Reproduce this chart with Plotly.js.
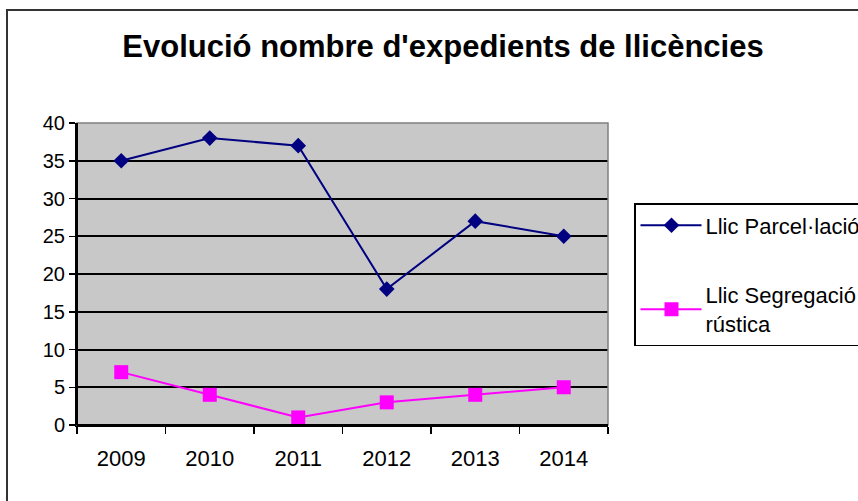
<!DOCTYPE html>
<html>
<head>
<meta charset="utf-8">
<script src="https://cdn.plot.ly/plotly-3.0.1.min.js"></script>
<style>html,body{margin:0;padding:0;background:#fff;overflow:hidden}#chart{width:858px;height:501px}</style>
</head>
<body>
<div id="chart"></div>
<script>
const years = ['2009', '2010', '2011', '2012', '2013', '2014'];
const parcelacio = [35, 38, 37, 18, 27, 25];
const segregacio = [7, 4, 1, 3, 4, 5];
const seriesNames = ['Llic Parcel·lació', 'Llic Segregació<br>rústica'];
const yTicks = [0, 5, 10, 15, 20, 25, 30, 35, 40];
const titleText = "Evolució nombre d'expedients de llicències";

const FONT = 'Liberation Sans, Arial, sans-serif';

const traces = [
  {
    x: years, y: parcelacio, name: seriesNames[0], type: 'scatter', mode: 'lines+markers',
    legendgroup: 'a',
    line: {color: '#000080', width: 2},
    marker: {symbol: 'diamond', size: 12, color: '#000080'}
  },
  {
    x: years, y: segregacio, name: seriesNames[1], type: 'scatter', mode: 'lines+markers',
    legendgroup: 'b',
    line: {color: '#ff00ff', width: 2},
    marker: {symbol: 'square', size: 14, color: '#ff00ff'}
  }
];

const layout = {
  width: 858, height: 501,
  margin: {l: 77, r: 250, t: 123, b: 76, autoexpand: false},
  paper_bgcolor: '#ffffff',
  plot_bgcolor: '#c8c8c8',
  font: {family: FONT, color: '#000000'},
  title: {
    text: '<b>' + titleText + '</b>',
    font: {family: FONT, size: 31, color: '#000'},
    x: 443 / 858, xanchor: 'center', xref: 'container',
    y: 1 - 46 / 501, yanchor: 'middle', yref: 'container'
  },
  xaxis: {
    type: 'category',
    range: [-0.5, 5.5],
    tickson: 'boundaries',
    ticks: 'outside', ticklen: 7, tickcolor: '#000', tickwidth: 1.5,
    ticklabelstandoff: 13,
    showline: true, linecolor: '#000', linewidth: 2,
    showgrid: false, zeroline: false,
    tickfont: {family: FONT, size: 22, color: '#000'},
    fixedrange: true
  },
  yaxis: {
    range: [0, 40],
    tickvals: yTicks,
    ticks: 'outside', ticklen: 6, tickcolor: '#000', tickwidth: 1.5,
    showline: true, linecolor: '#000', linewidth: 2,
    showgrid: true, gridcolor: '#000', gridwidth: 2,
    zeroline: false,
    tickfont: {family: FONT, size: 20, color: '#000'},
    fixedrange: true
  },
  showlegend: true,
  legend: {
    xref: 'container', yref: 'container',
    x: 634 / 858, xanchor: 'left',
    y: 1 - 203 / 501, yanchor: 'top',
    bgcolor: '#ffffff', bordercolor: '#000', borderwidth: 1.5,
    font: {family: FONT, size: 22, color: '#000'},
    traceorder: 'grouped', tracegroupgap: 38,
    itemwidth: 60,
    itemclick: false, itemdoubleclick: false
  },
  shapes: [
    {type: 'rect', xref: 'paper', yref: 'paper', x0: 0, x1: 1, y0: 0, y1: 1,
     line: {color: '#808080', width: 1.5}, fillcolor: 'rgba(0,0,0,0)', layer: 'above'},
    {type: 'line', xref: 'paper', yref: 'paper', x0: 0, x1: 0, y0: 0, y1: 1,
     line: {color: '#000', width: 2}, layer: 'above'},
    {type: 'line', xref: 'paper', yref: 'paper', x0: 0, x1: 1, y0: 0, y1: 0,
     line: {color: '#000', width: 2}, layer: 'above'},
    {type: 'rect', xref: 'paper', yref: 'paper',
     x0: (7 - 77) / 531, x1: (900 - 77) / 531,
     y0: (425 - 540) / 302, y1: (425 - 10) / 302,
     line: {color: '#333333', width: 2}, fillcolor: 'rgba(0,0,0,0)', layer: 'below'}
  ]
};

function fixLegendSamples() {
  // lengthen legend sample lines and centre their markers, as in the reference
  document.querySelectorAll('.legend .legendlines path').forEach(function (p) {
    p.setAttribute('d', 'M5,0h61');
  });
  document.querySelectorAll('.legend .legendpoints path').forEach(function (p) {
    p.setAttribute('transform', 'translate(36,0)');
  });
}

const gd = document.getElementById('chart');
const pr = Plotly.newPlot(gd, traces, layout, {displayModeBar: false, staticPlot: true});
fixLegendSamples();
if (gd.on) gd.on('plotly_afterplot', fixLegendSamples);
pr.then(function () {
  fixLegendSamples();
  requestAnimationFrame(fixLegendSamples);
});
</script>
</body>
</html>
